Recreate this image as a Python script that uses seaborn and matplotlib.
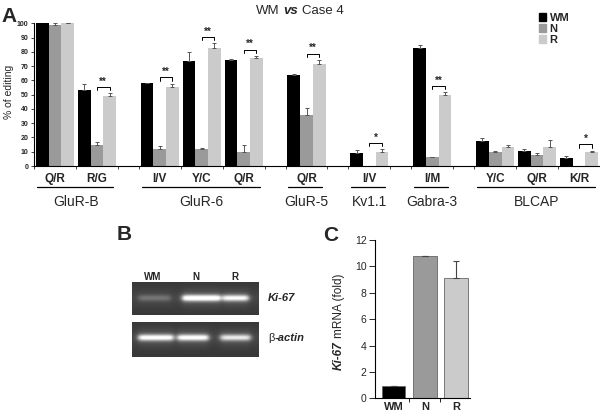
import numpy as np
import pandas as pd
import matplotlib
matplotlib.use("Agg")
import matplotlib.pyplot as plt
from matplotlib import transforms
from matplotlib.patches import Patch
import seaborn as sns

sns.set_theme(style="ticks")
plt.rcParams["font.family"] = ["Liberation Sans", "DejaVu Sans"]

# ---- panel A data: % of editing per site ----
sites = ["Q/R", "R/G", "I/V", "Y/C", "Q/R", "Q/R", "I/V", "I/M", "Y/C", "Q/R", "K/R"]
site_group = [0, 0, 1, 1, 1, 2, 3, 4, 5, 5, 5]
site_pos = [0.5, 1.5, 3, 4, 5, 6.5, 8, 9.5, 11, 12, 13]
groups = ["GluR-B", "GluR-6", "GluR-5", "Kv1.1", "Gabra-3", "BLCAP"]
samples = ["WM", "N", "R"]
wm = [100, 53, 58, 73.5, 74.5, 63.5, 9, 82.5, 17.5, 10.5, 5.5]
wm_err = [0, 4.5, 0.5, 6.5, 0.6, 0.8, 2.2, 2.2, 2.4, 1.5, 1.5]
n = [99, 14.5, 12, 12, 10, 35.5, 0, 6, 10, 7.5, 0]
n_err = [1, 2, 2, 0.4, 5, 5, 0, 0.4, 0.6, 1.6, 0]
r = [100, 49, 55.5, 82.5, 76, 71.5, 10, 49.5, 13, 13.5, 9.6]
r_err = [0.4, 2, 2.2, 3.5, 1, 2.8, 1.7, 2.2, 2, 4.6, 1.2]
sig_sites = [1, 2, 3, 4, 5, 6, 7, 10]
sig_marks = ["**", "**", "**", "**", "**", "*", "**", "*"]

# ---- panel B: band intensities (WM, N, R) ----
ki67_band = [0.22, 1.0, 0.85]
actin_band = [0.9, 0.9, 0.75]

# ---- panel C data: Ki-67 mRNA fold ----
c_labels = ["WM", "N", "R"]
c_values = [0.95, 10.75, 9.1]
c_err = [0.02, 0.06, 1.3]

colors = {"WM": "#000000", "N": "#9a9a9a", "R": "#cbcbcb"}
W, H = 600, 412


def rich_text(fig, x, y, parts, size, rotation=0, align="center"):
    rend = fig.canvas.get_renderer()
    space = 0.28 * size * fig.dpi / 72
    items = []
    for s, style, sp in parts:
        t = fig.text(x, y, s, fontsize=size, rotation=rotation,
                     rotation_mode="anchor", ha="left", va="baseline", **style)
        bb = t.get_window_extent(rend)
        items.append((t, bb.height if rotation else bb.width, sp))
    total = sum(L + (space if sp else 0) for _, L, sp in items)
    cur = -total / 2 if align == "center" else 0
    for t, L, sp in items:
        if sp:
            cur += space
        dx, dy = (0, cur) if rotation else (cur, 0)
        t.set_transform(transforms.offset_copy(fig.transFigure, fig=fig, x=dx, y=dy, units="dots"))
        cur += L


fig = plt.figure(figsize=(6, 4.12), dpi=100)

# ================= panel A =================
axA = fig.add_axes([34 / W, 1 - 166 / H, 566 / W, (166 - 23.3) / H])
df = pd.DataFrame({
    "pos": np.tile(site_pos, 3),
    "sample": np.repeat(samples, len(sites)),
    "value": wm + n + r,
})
bw = 0.91
sns.barplot(data=df, x="pos", y="value", hue="sample", hue_order=samples,
            native_scale=True, palette=colors, errorbar=None, width=bw,
            saturation=1, linewidth=0, legend=False, ax=axA)

errs = {"WM": (wm, wm_err), "N": (n, n_err), "R": (r, r_err)}
for k, s in enumerate(samples):
    vals, e = errs[s]
    xs = np.array(site_pos) + (k - 1) * bw / 3
    m = np.array(e) > 0
    axA.errorbar(xs[m], np.array(vals)[m], yerr=[np.zeros(m.sum()), np.array(e)[m]],
                 fmt="none", ecolor="#555555", elinewidth=0.7, capsize=1.5,
                 capthick=0.7, clip_on=False)

for i, mark in zip(sig_sites, sig_marks):
    x0 = site_pos[i]
    x1 = site_pos[i] + bw / 3
    top = max(n[i] + n_err[i], r[i] + r_err[i]) + 4.5
    axA.plot([x0, x0, x1, x1], [top - 2.5, top, top, top - 2.5], color="black", lw=0.7, clip_on=False)
    axA.text((x0 + x1) / 2, top + 0.3, mark, ha="center", va="bottom", fontsize=7, fontweight="bold")

axA.set_xlim(0, 13.48)
axA.set_ylim(0, 100)
bounds = []
for g in range(len(groups)):
    ps = [p for p, gg in zip(site_pos, site_group) if gg == g]
    lo, hi = min(ps) - 0.5, max(ps) + 0.5
    bounds += list(np.arange(lo, hi + 0.01, 1.0))
    axA.plot([lo + 0.07, hi - 0.12], [-0.145, -0.145], color="black", lw=0.9,
             transform=axA.get_xaxis_transform(), clip_on=False)
    axA.text((lo + hi) / 2, -0.25, groups[g], ha="center", va="center", fontsize=10,
             transform=axA.get_xaxis_transform())
for p, s in zip(site_pos, sites):
    axA.text(p, -0.09, s, ha="center", va="center", fontsize=8.5, fontweight="bold",
             transform=axA.get_xaxis_transform())
axA.set_xticks(sorted(set(bounds)))
axA.set_xticklabels([])
axA.set_yticks(range(0, 101, 10))
axA.tick_params(axis="y", labelsize=5, length=2.5, width=0.6, pad=1.5)
axA.tick_params(axis="x", length=2.5, width=0.6)
for lab in axA.get_yticklabels():
    lab.set_fontweight("bold")
axA.set_xlabel("")
axA.set_ylabel("")
sns.despine(ax=axA)
for sp in ["left", "bottom"]:
    axA.spines[sp].set_linewidth(0.8)
    axA.spines[sp].set_color("black")

fig.text(9 / W, 1 - 92 / H, "% of editing", rotation=90, ha="center", va="center", fontsize=7.5)
rich_text(fig, 300 / W, 1 - 14 / H,
          [("WM", {}, False), ("vs", {"fontweight": "bold", "fontstyle": "italic"}, True),
           ("Case 4", {}, True)], 9.5)
fig.legend(handles=[Patch(color=colors[s], label=s) for s in samples],
           loc="upper left", bbox_to_anchor=(533 / W, 1 - 7 / H), frameon=False,
           handlelength=0.7, handleheight=0.7, handletextpad=0.3, labelspacing=0.12,
           borderpad=0, prop={"size": 8, "weight": "bold"})

# ================= panel B (gel) =================
def gel(intens, centers, widths, h, w, band_y):
    yy = np.arange(h)[:, None]
    xx = np.arange(w)[None, :]
    img = np.full((h, w), 0.22) + 0.05 * np.exp(-((yy - band_y) / 10.0) ** 2)
    for a, c, wd in zip(intens, centers, widths):
        px = 1 / (1 + np.exp(-(xx - (c - wd / 2)) / 1.5)) / (1 + np.exp((xx - (c + wd / 2)) / 1.5))
        py = np.exp(-((yy - band_y) / 3.0) ** 2)
        img = img + a * 0.8 * px * py + a * 0.1 * px * np.exp(-((yy - band_y) / 8.0) ** 2)
    return np.clip(img, 0, 1)


axB1 = fig.add_axes([131.7 / W, 1 - 315 / H, 126.6 / W, 33.3 / H])
axB1.imshow(gel(ki67_band, [22, 69, 103], [32, 38, 26], 33, 127, 16),
            cmap="gray", vmin=0, vmax=1, aspect="auto", interpolation="bilinear")
axB1.axis("off")
axB2 = fig.add_axes([131.7 / W, 1 - 356.7 / H, 126.6 / W, 35 / H])
axB2.imshow(gel(actin_band, [23.5, 60.5, 103], [35, 31, 30], 35, 127, 15.6),
            cmap="gray", vmin=0, vmax=1, aspect="auto", interpolation="bilinear")
axB2.axis("off")
for lab, xl in zip(c_labels, [153, 196, 235]):
    fig.text(xl / W, 1 - 280 / H, lab, ha="center", va="baseline", fontsize=7, fontweight="bold")
rich_text(fig, 268 / W, 1 - 301 / H, [("Ki-67", {"fontweight": "bold", "fontstyle": "italic"}, False)], 8, align="left")
rich_text(fig, 268 / W, 1 - 341 / H, [("β", {}, False), ("-actin", {"fontweight": "bold", "fontstyle": "italic"}, False)], 8, align="left")

# ================= panel C =================
axC = fig.add_axes([375 / W, 1 - 398.3 / H, 95 / W, 158.3 / H])
sns.barplot(x=c_labels, y=c_values, hue=c_labels, palette=colors, saturation=1,
            width=0.75, edgecolor="#666666", linewidth=0.6, legend=False, ax=axC)
axC.errorbar(range(3), c_values, yerr=[np.zeros(3), c_err], fmt="none", ecolor="#444444",
             elinewidth=0.8, capsize=2, capthick=0.8)
axC.set_xlim(-0.6, 2.45)
axC.set_ylim(0, 12)
axC.set_yticks(range(0, 13, 2))
axC.set_xticks([0.5, 1.5], minor=True)
axC.tick_params(axis="x", which="major", length=0, labelsize=8, pad=3)
axC.tick_params(axis="x", which="minor", length=3, width=0.7)
axC.tick_params(axis="y", labelsize=7.5, length=4, width=0.7, pad=2)
for lab in axC.get_xticklabels():
    lab.set_fontweight("bold")
sns.despine(ax=axC)
for sp in ["left", "bottom"]:
    axC.spines[sp].set_linewidth(0.8)
    axC.spines[sp].set_color("black")
rich_text(fig, 342 / W, 1 - 322 / H,
          [("Ki-67", {"fontweight": "bold", "fontstyle": "italic"}, False), ("mRNA (fold)", {}, True)],
          8.5, rotation=90)

# panel letters
for letter, xl, yl in [("A", 1, 22), ("B", 117, 240), ("C", 323, 241)]:
    fig.text(xl / W, 1 - yl / H, letter, ha="left", va="baseline", fontsize=15, fontweight="bold")

fig.savefig("out.png", dpi=100)
